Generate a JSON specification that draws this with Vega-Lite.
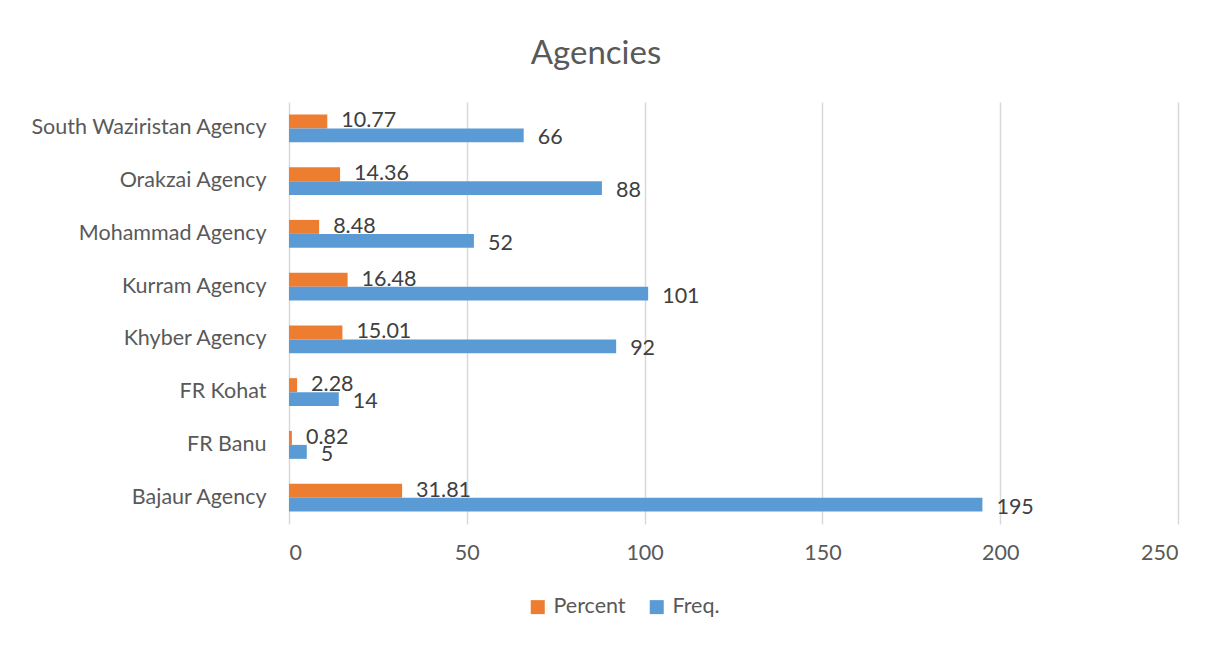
{
  "$schema": "https://vega.github.io/schema/vega-lite/v6.json",
  "autosize": {"type": "none"},
  "padding": {"left": 289, "top": 102, "right": 40, "bottom": 121},
  "width": 889,
  "height": 422,
  "background": "white",
  "title": {
    "text": "Agencies",
    "fontSize": 33,
    "font": "Lato",
    "fontWeight": "normal",
    "color": "#595959",
    "anchor": "middle",
    "frame": "bounds",
    "dx": -8,
    "offset": 31
  },
  "config": {
    "view": {"stroke": null},
    "font": "Lato",
    "text": {"font": "Lato"}
  },
  "data": {
    "values": [
      {"Agency": "South Waziristan Agency", "series": "Percent", "value": 10.77},
      {"Agency": "South Waziristan Agency", "series": "Freq.", "value": 66},
      {"Agency": "Orakzai Agency", "series": "Percent", "value": 14.36},
      {"Agency": "Orakzai Agency", "series": "Freq.", "value": 88},
      {"Agency": "Mohammad Agency", "series": "Percent", "value": 8.48},
      {"Agency": "Mohammad Agency", "series": "Freq.", "value": 52},
      {"Agency": "Kurram Agency", "series": "Percent", "value": 16.48},
      {"Agency": "Kurram Agency", "series": "Freq.", "value": 101},
      {"Agency": "Khyber Agency", "series": "Percent", "value": 15.01},
      {"Agency": "Khyber Agency", "series": "Freq.", "value": 92},
      {"Agency": "FR Kohat", "series": "Percent", "value": 2.28},
      {"Agency": "FR Kohat", "series": "Freq.", "value": 14},
      {"Agency": "FR Banu", "series": "Percent", "value": 0.82},
      {"Agency": "FR Banu", "series": "Freq.", "value": 5},
      {"Agency": "Bajaur Agency", "series": "Percent", "value": 31.81},
      {"Agency": "Bajaur Agency", "series": "Freq.", "value": 195}
    ]
  },
  "encoding": {
    "y": {
      "field": "Agency",
      "type": "nominal",
      "sort": ["South Waziristan Agency", "Orakzai Agency", "Mohammad Agency", "Kurram Agency", "Khyber Agency", "FR Kohat", "FR Banu", "Bajaur Agency"],
      "scale": {"paddingInner": 0.47, "paddingOuter": 0.235},
      "axis": {
        "title": null,
        "domain": false,
        "ticks": false,
        "grid": false,
        "labelFontSize": 21.5,
        "labelColor": "#595959",
        "labelPadding": 23,
        "labelLimit": 400,
        "labelFont": "Lato"
      }
    },
    "yOffset": {
      "field": "series",
      "type": "nominal",
      "sort": ["Percent", "Freq."],
      "scale": {"paddingInner": 0, "paddingOuter": 0}
    },
    "x": {
      "field": "value",
      "type": "quantitative",
      "scale": {"domain": [0, 250], "nice": false},
      "axis": {
        "title": null,
        "values": [0, 50, 100, 150, 200, 250],
        "domain": false,
        "ticks": false,
        "grid": true,
        "gridColor": "#d9d9d9",
        "gridWidth": 1.5,
        "labelFontSize": 21.5,
        "labelColor": "#595959",
        "labelPadding": 18,
        "labelFont": "Lato"
      }
    }
  },
  "layer": [
    {
      "mark": {"type": "bar"},
      "encoding": {
        "color": {
          "field": "series",
          "type": "nominal",
          "scale": {"domain": ["Percent", "Freq."], "range": ["#ED7D31", "#5B9BD5"]},
          "legend": {
            "title": null,
            "orient": "none",
            "legendX": 238,
            "legendY": 494,
            "direction": "horizontal",
            "symbolType": "square",
            "symbolSize": 196,
            "symbolStrokeWidth": 0,
            "labelFontSize": 21.5,
            "labelColor": "#595959",
            "labelFont": "Lato",
            "labelOffset": 5,
            "columnPadding": 20
          }
        }
      }
    },
    {
      "transform": [{"filter": "datum.series === 'Percent'"}],
      "mark": {"type": "text", "align": "left", "baseline": "middle", "dx": 14, "dy": 0, "fontSize": 21.5, "color": "#404040", "font": "Lato"},
      "encoding": {
        "text": {"field": "value", "type": "nominal"}
      }
    },
    {
      "transform": [{"filter": "datum.series === 'Freq.'"}],
      "mark": {"type": "text", "align": "left", "baseline": "middle", "dx": 14, "dy": 3, "fontSize": 21.5, "color": "#404040", "font": "Lato"},
      "encoding": {
        "text": {"field": "value", "type": "nominal"}
      }
    }
  ]
}
